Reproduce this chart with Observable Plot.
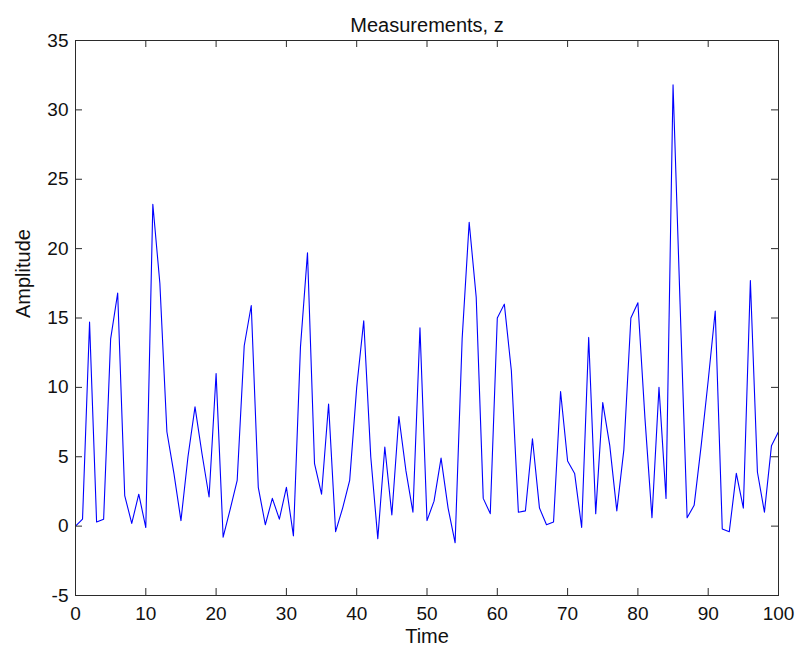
<!DOCTYPE html>
<html>
<head>
<meta charset="utf-8">
<script src="https://cdn.jsdelivr.net/npm/d3@7"></script>
<script src="https://cdn.jsdelivr.net/npm/@observablehq/plot@0.6"></script>
<style>
  html, body { margin: 0; padding: 0; background: #ffffff; }
  #chart { width: 799px; height: 656px; }
</style>
</head>
<body>
<div id="chart"></div>
<script>
// Measurement amplitude sampled at integer time steps 0..100
const amplitude = [
  0, 0.5, 14.7, 0.3, 0.5, 13.5, 16.8, 2.2, 0.2, 2.3,
  -0.1, 23.2, 17.5, 6.8, 3.8, 0.4, 5.0, 8.6, 5.2, 2.1,
  11.0, -0.8, 1.2, 3.3, 13.0, 15.9, 2.8, 0.1, 2.0, 0.5,
  2.8, -0.7, 12.9, 19.7, 4.5, 2.3, 8.8, -0.4, 1.3, 3.3,
  10.0, 14.8, 5.0, -0.9, 5.7, 0.8, 7.9, 4.0, 1.0, 14.3,
  0.4, 1.8, 4.9, 1.3, -1.2, 13.5, 21.9, 16.5, 2.0, 0.9,
  15.0, 16.0, 11.2, 1.0, 1.1, 6.3, 1.3, 0.1, 0.3, 9.7,
  4.7, 3.8, -0.1, 13.6, 0.9, 8.9, 5.8, 1.1, 5.5, 15.0,
  16.1, 7.8, 0.6, 10.0, 2.0, 31.8, 16.0, 0.6, 1.5, 5.8,
  10.5, 15.5, -0.2, -0.4, 3.8, 1.3, 17.7, 3.9, 1.0, 5.8,
  6.8
];
const time = amplitude.map((_, i) => i);

const xTicks = [0, 10, 20, 30, 40, 50, 60, 70, 80, 90, 100];
const yTicks = [-5, 0, 5, 10, 15, 20, 25, 30, 35];
const xDomain = [0, 100];
const yDomain = [-5, 35];

const titleText = "Measurements, z";
const xLabelText = "Time";
const yLabelText = "Amplitude";

const data = time.map((t, i) => ({t, v: amplitude[i]}));

const W = 799, H = 656;
const mL = 75, mR = 21, mT = 40, mB = 61;
const innerH = H - mT - mB;
const innerW = W - mL - mR;
const tickLen = 7;
const axisColor = "#2b2b2b";
const fmt = d => String(d);

const chart = Plot.plot({
  width: W,
  height: H,
  marginLeft: mL,
  marginRight: mR,
  marginTop: mT,
  marginBottom: mB,
  style: {
    fontFamily: "'Liberation Sans', Arial, Helvetica, sans-serif",
    fontSize: "19px",
    color: "#111",
    background: "#ffffff",
    overflow: "visible"
  },
  x: {domain: xDomain, ticks: xTicks, tickSize: 0, tickPadding: 11, tickFormat: fmt, label: null},
  y: {domain: yDomain, ticks: yTicks, tickSize: 0, tickPadding: 7, tickFormat: fmt, label: null},
  marks: [
    Plot.line(data, {x: "t", y: "v", stroke: "#0000ff", strokeWidth: 1.1}),
    // inward ticks, all four sides
    Plot.tickX(xTicks, {x: d => d, stroke: axisColor, insetTop: innerH - tickLen}),
    Plot.tickX(xTicks, {x: d => d, stroke: axisColor, insetBottom: innerH - tickLen}),
    Plot.tickY(yTicks, {y: d => d, stroke: axisColor, insetRight: innerW - tickLen}),
    Plot.tickY(yTicks, {y: d => d, stroke: axisColor, insetLeft: innerW - tickLen}),
    Plot.frame({stroke: axisColor, strokeWidth: 1}),
    Plot.text([titleText], {frameAnchor: "top", dy: -23, text: d => d, fontSize: 20, fill: "#111"}),
    Plot.text([xLabelText], {frameAnchor: "bottom", dy: 47, text: d => d, fontSize: 20, fill: "#111"}),
    Plot.text([yLabelText], {frameAnchor: "left", dx: -52, rotate: -90, text: d => d, fontSize: 20, fill: "#111"})
  ]
});

document.getElementById("chart").appendChild(chart);
</script>
</body>
</html>
